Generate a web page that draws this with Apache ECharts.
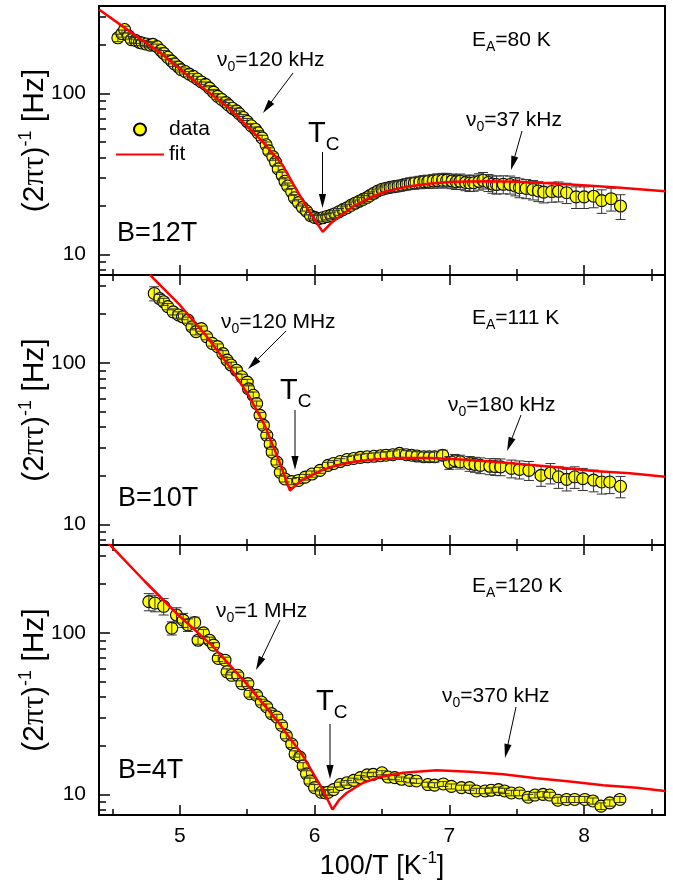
<!DOCTYPE html>
<html><head><meta charset="utf-8">
<script src="https://cdn.jsdelivr.net/npm/echarts@6/dist/echarts.min.js"></script>
<style>html,body{margin:0;padding:0;background:#fff}#c{width:673px;height:890px}</style>
</head><body><div id="c"></div>
<script>
// ---- tick values ----
const xTicksMajor = [5, 6, 7, 8];
const xTicksMinor = [4.5, 5.5, 6.5, 7.5, 8.5];
const yTicksMajor = [10, 100];
const yTicksMinor = [8, 9, 20, 30, 40, 50, 60, 70, 80, 90, 200, 300];

// ---- B = 12 T : [100/T, rate (Hz), error (Hz)] ----
const data12T = [
[4.54,222,12],[4.57,236,12],[4.59,250,12],[4.62,228,10],[4.64,216,10],[4.67,214,9],[4.70,208,9],[4.72,206,8],
[4.75,203,8],[4.78,200,8],[4.80,202,8],[4.83,196,7],[4.86,185,7],[4.88,178,7],[4.91,168,6],[4.94,159,6],
[4.96,153,6],[4.99,146,6],[5.01,141,5],[5.04,137,5],[5.07,132,5],[5.10,128,5],[5.13,123,5],[5.16,118,4],
[5.19,114,4],[5.22,108,4],[5.25,102,4],[5.28,96,4],[5.31,92,3],[5.34,88,3],[5.36,85,3],[5.39,81,3],
[5.42,78,3],[5.44,75,3],[5.47,71,3],[5.50,67,3],[5.53,63,2],[5.56,60,2],[5.58,57,2],[5.61,53,2],
[5.64,48,2],[5.66,44,2],[5.69,40.5,2],[5.71,37.5,2],[5.73,34,1.5],[5.76,31,1.5],[5.78,28.5,1.5],[5.80,26.6,1.2],
[5.83,24.5,1.2],[5.85,22.5,1],[5.88,21,1],[5.91,19.6,1],[5.94,18.6,1],[5.97,17.4,0.8],[6.00,17.0,0.8],[6.03,16.7,0.8],
[6.06,16.9,0.8],[6.09,17.2,0.8],[6.12,17.5,0.8],[6.15,17.9,0.9],[6.18,18.4,0.9],[6.21,19.0,1],[6.24,19.5,1],[6.27,20.2,1],
[6.30,20.8,1],[6.33,21.4,1.2],[6.36,22.0,1.2],[6.39,22.6,1.3],[6.41,23.2,1.3],[6.44,24.0,1.5],[6.47,24.8,1.5],[6.50,25.4,1.6],
[6.53,25.8,1.7],[6.56,26.1,1.8],[6.59,26.4,1.9],[6.62,26.6,2],[6.65,26.9,2],[6.68,27.3,2.2],[6.71,27.6,2.3],[6.74,27.8,2.4],
[6.78,28.1,2.5],[6.81,28.3,2.6],[6.84,28.4,2.7],[6.88,28.6,2.8],[6.91,28.8,2.9],[6.95,28.9,3],[6.98,28.9,3],[7.02,28.6,3],
[7.05,28.3,3],[7.08,28.5,3.1],[7.12,28.0,3.1],[7.15,27.8,3.2],[7.18,27.9,3.2],[7.22,28.4,3.3],[7.25,28.9,3.4],[7.29,28.0,3.4],
[7.32,27.4,3.4],[7.35,27.2,3.5],[7.40,27.3,3.5],[7.45,27.2,3.5],[7.49,26.6,3.5],[7.52,26.0,3.5],[7.57,25.7,3.5],[7.62,25.3,3.5],
[7.66,24.8,3.5],[7.70,24.4,3.5],[7.76,24.6,3.5],[7.81,24.7,3.5],[7.87,24.2,3.5],[7.94,22.8,3.5],[8.00,22.8,3.5],[8.07,23.0,3.5],
[8.13,21.6,3.6],[8.20,22.2,3.6],[8.27,20.0,3.5]
];
const fit12T = [
[4.40,333],[4.62,246],[4.87,175],[5.11,119],[5.36,81.5],[5.61,50.6],[5.76,36.2],[5.85,26.6],[5.95,19.1],[6.06,13.8],
[6.12,15.6],[6.19,17.3],[6.29,20.0],[6.41,22.5],[6.53,24.7],[6.68,26.3],[6.86,27.6],[7.03,28.3],[7.28,28.5],[7.52,28.3],
[7.77,27.6],[8.02,26.8],[8.27,26.0],[8.60,24.7]
];

// ---- B = 10 T ----
const data10T = [
[4.81,269,27],[4.85,250,15],[4.88,239,12],[4.91,223,10],[4.95,207,9],[4.99,198,9],[5.02,193,8],[5.06,184,8],
[5.09,167,7],[5.12,156,7],[5.16,163,6],[5.20,145,6],[5.24,132,5],[5.28,126,5],[5.32,114,5],[5.35,104,4],
[5.38,97,4],[5.42,90,4],[5.46,82,3],[5.50,76,3],[5.51,69,3],[5.545,63,3],[5.57,56,2],[5.595,47.3,2],
[5.62,41,2],[5.645,35.6,1.5],[5.67,31.5,1.5],[5.685,28,1.2],[5.72,24.3,1],[5.745,21,1],[5.78,19.1,0.8],[5.83,18.4,0.8],
[5.88,18.7,0.8],[5.93,19.6,0.8],[5.98,20.5,0.9],[6.04,21.6,0.9],[6.10,23.2,1],[6.14,23.8,1],[6.19,24.5,1],[6.24,25.2,1.1],
[6.29,25.6,1.2],[6.34,26.0,1.2],[6.39,26.2,1.3],[6.44,26.4,1.3],[6.49,26.6,1.4],[6.53,26.8,1.4],[6.58,27.0,1.5],[6.63,27.5,1.5],
[6.68,27.0,1.6],[6.72,26.8,1.6],[6.76,26.5,1.7],[6.81,26.2,1.8],[6.85,26.2,1.8],[6.89,26.2,1.9],[6.95,26.8,2],[7.00,24.1,2.2],
[7.04,24.8,2.3],[7.08,24.4,2.4],[7.15,23.8,2.5],[7.19,23.5,2.5],[7.23,23.2,2.6],[7.30,22.9,2.6],[7.34,22.8,2.7],[7.38,22.7,2.7],
[7.46,22.2,2.8],[7.52,21.9,2.8],[7.59,21.6,2.9],[7.68,20.1,2.9],[7.75,20.8,3],[7.81,19.7,3],[7.87,19.0,2.9],[7.93,19.7,3],
[7.99,19.2,3],[8.07,18.8,2.9],[8.13,18.3,2.9],[8.19,18.3,2.8],[8.27,17.2,2.6]
];
const fit10T = [
[4.778,351],[4.99,233],[5.19,149],[5.36,96.8],[5.51,63],[5.63,41],[5.73,25.5],[5.817,16.2],[5.90,18.7],[6.05,21.6],
[6.14,22.9],[6.29,24.4],[6.46,25.3],[6.66,25.8],[6.86,25.8],[7.08,25.2],[7.33,24.4],[7.57,23.5],[7.82,22.5],[8.07,21.4],
[8.34,20.7],[8.60,19.7]
];

// ---- B = 4 T ----
const data4T = [
[4.77,156,19],[4.815,153,18],[4.88,146,17],[4.94,107,10],[4.975,129,14],[5.025,120,12],[5.06,112,10],[5.11,116,9],
[5.135,90,5],[5.175,100,5],[5.22,90,4],[5.25,84,3],[5.285,69.4,3],[5.335,67.7,3],[5.35,57.4,2.5],[5.385,54.6,2.5],
[5.43,54.6,2.5],[5.46,48.5,2],[5.505,48.5,2],[5.52,42,2],[5.57,41,2],[5.605,37.3,1.5],[5.645,34.8,1.5],[5.68,31.6,1.5],
[5.72,30.1,1.2],[5.755,26.7,1.2],[5.79,23.1,1],[5.83,20.5,1],[5.855,17.8,0.8],[5.89,17.0,0.8],[5.915,15.0,0.7],[5.94,13.4,0.6],
[5.965,12.1,0.5],[6.00,11.0,0.5],[6.05,10.3,0.4],[6.08,10.2,0.4],[6.10,10.3,0.4],[6.14,10.7,0.4],[6.19,11.5,0.4],[6.24,11.8,0.4],
[6.29,12.2,0.4],[6.34,12.7,0.4],[6.39,13.2,0.4],[6.435,13.3,0.4],[6.50,13.6,0.4],[6.545,12.8,0.4],[6.595,12.7,0.4],[6.645,12.4,0.4],
[6.705,12.2,0.4],[6.755,12.1,0.4],[6.84,11.5,0.4],[6.89,11.4,0.4],[6.955,11.6,0.4],[7.015,11.2,0.4],[7.09,11.0,0.4],[7.15,11.0,0.4],
[7.20,10.5,0.4],[7.265,10.5,0.4],[7.31,10.6,0.4],[7.365,10.7,0.4],[7.41,10.5,0.4],[7.46,10.2,0.4],[7.52,10.2,0.4],[7.585,9.6,0.4],
[7.635,9.9,0.4],[7.695,10.0,0.4],[7.745,9.9,0.4],[7.805,9.2,0.4],[7.87,9.3,0.4],[7.93,9.3,0.4],[8.005,9.3,0.4],[8.065,9.1,0.4],
[8.125,8.45,0.4],[8.19,8.85,0.4],[8.265,9.3,0.4]
];
const fit4T = [
[4.469,360],[4.741,208],[4.988,129],[5.236,84],[5.483,49.7],[5.73,28],[5.904,17.8],[6.052,11.0],[6.133,8.06],[6.18,9.2],
[6.237,10.2],[6.36,11.8],[6.485,12.8],[6.657,13.6],[6.905,14.1],[7.152,13.8],[7.399,13.3],[7.647,12.6],[7.894,12.0],[8.141,11.4],
[8.389,11.0],[8.60,10.5]
];

const FONT = "'Liberation Sans', Arial, Helvetica, sans-serif";
const chart = echarts.init(document.getElementById('c'), null, {renderer: 'canvas'});

const panels = [
  {data: data12T, fit: fit12T, top: 6,   h: 269, topTicks: false, labels: false},
  {data: data10T, fit: fit10T, top: 275, h: 270, topTicks: true,  labels: false},
  {data: data4T,  fit: fit4T,  top: 545, h: 270, topTicks: true,  labels: true}
];

const grid = [], xAxis = [], yAxis = [], series = [];
const tickStyle = {color: '#000', width: 1.5};
const yName = '{a|(2}{g|πτ}{a|)}{s|-1}{a| [Hz]}';
const yRich = {
  a: {fontSize: 30, fontFamily: FONT, color: '#000'},
  g: {fontSize: 32, fontFamily: "'Liberation Serif', serif", color: '#000'},
  s: {fontSize: 18, fontFamily: FONT, color: '#000', padding: [0, 0, 18, 0]}
};
const xRich = {
  a: {fontSize: 27, fontFamily: FONT, color: '#000'},
  s: {fontSize: 17, fontFamily: FONT, color: '#000', padding: [0, 0, 16, 0]}
};

panels.forEach((p, i) => {
  grid.push({left: 99, width: 566, top: p.top, height: p.h, show: true,
    borderColor: '#000', borderWidth: 2, backgroundColor: 'transparent', containLabel: false});
  const xMain = xAxis.length;
  const xBase = {type: 'value', gridIndex: i, min: 4.4, max: 8.6, splitLine: {show: false},
    axisLine: {show: false, onZero: false}};
  xAxis.push(Object.assign({}, xBase, {position: 'bottom',
    axisTick: {inside: true, length: 10, lineStyle: tickStyle, customValues: xTicksMajor},
    axisLabel: {show: p.labels, customValues: xTicksMajor, fontSize: 21, color: '#000', fontFamily: FONT, margin: 11},
    name: p.labels ? '{a|100/T [K}{s|-1}{a|]}' : '', nameLocation: 'middle', nameGap: 35,
    nameTextStyle: {rich: xRich}}));
  xAxis.push(Object.assign({}, xBase, {position: 'bottom',
    axisTick: {inside: true, length: 6, lineStyle: tickStyle, customValues: xTicksMinor},
    axisLabel: {show: false}}));
  if (p.topTicks) {
    xAxis.push(Object.assign({}, xBase, {position: 'top',
      axisTick: {inside: true, length: 10, lineStyle: tickStyle, customValues: xTicksMajor},
      axisLabel: {show: false}}));
    xAxis.push(Object.assign({}, xBase, {position: 'top',
      axisTick: {inside: true, length: 6, lineStyle: tickStyle, customValues: xTicksMinor},
      axisLabel: {show: false}}));
  }
  const yMain = yAxis.length;
  const yBase = {type: 'log', logBase: 10, gridIndex: i, min: 7.45, max: 350, position: 'left',
    splitLine: {show: false}, axisLine: {show: false, onZero: false}};
  yAxis.push(Object.assign({}, yBase, {
    axisTick: {inside: true, length: 11, lineStyle: tickStyle, customValues: yTicksMajor},
    axisLabel: {customValues: yTicksMajor, fontSize: 21, color: '#000', fontFamily: FONT, margin: 13},
    name: yName, nameLocation: 'middle', nameRotate: 90, nameGap: 46, nameMoveOverlap: false,
    nameTextStyle: {rich: yRich}}));
  yAxis.push(Object.assign({}, yBase, {
    axisTick: {inside: true, length: 7, lineStyle: tickStyle, customValues: yTicksMinor},
    axisLabel: {show: false}}));

  series.push({
    name: 'data', type: 'scatter', xAxisIndex: xMain, yAxisIndex: yMain,
    data: p.data, encode: {x: 0, y: 1}, symbol: 'circle', symbolSize: 12,
    itemStyle: {color: '#ffff00', borderColor: '#000', borderWidth: 1.1, opacity: 1},
    z: 2, silent: true, animation: false
  });
  series.push({
    name: 'err' + i, type: 'custom', xAxisIndex: xMain, yAxisIndex: yMain,
    data: p.data, encode: {x: 0, y: 1}, z: 3, silent: true, animation: false,
    renderItem: (params, api) => {
      const x = api.value(0), y = api.value(1), e = api.value(2);
      const t = api.coord([x, y + e]), b = api.coord([x, y - e]);
      const cw = 5;
      const st = {stroke: '#333', lineWidth: 1};
      return {type: 'group', children: [
        {type: 'line', shape: {x1: t[0], y1: t[1], x2: b[0], y2: b[1]}, style: st},
        {type: 'line', shape: {x1: t[0] - cw, y1: t[1], x2: t[0] + cw, y2: t[1]}, style: st},
        {type: 'line', shape: {x1: b[0] - cw, y1: b[1], x2: b[0] + cw, y2: b[1]}, style: st}
      ]};
    }
  });
  series.push({
    name: 'fit', type: 'line', xAxisIndex: xMain, yAxisIndex: yMain,
    data: p.fit, symbol: 'none', showSymbol: false, clip: true,
    lineStyle: {color: '#ff0000', width: 2.5}, itemStyle: {color: '#ff0000', opacity: 0},
    z: 4, silent: true, animation: false
  });
});

// ---- annotations (pixel layout) ----
const annFont = 21;
const subRich = {
  a: {fontSize: annFont, fontFamily: FONT, color: '#000'},
  s: {fontSize: 14, fontFamily: FONT, color: '#000', padding: [15, 0, 0, 0]},
  T: {fontSize: 29, fontFamily: FONT, color: '#000'},
  C: {fontSize: 19, fontFamily: FONT, color: '#000', padding: [22, 0, 0, 0]},
  B: {fontSize: 27, fontFamily: FONT, color: '#000'}
};
const texts = [
  ['{a|ν}{s|0}{a|=120 kHz}', 217, 60], ['{a|E}{s|A}{a|=80 K}', 472, 40], ['{a|ν}{s|0}{a|=37 kHz}', 466, 120],
  ['{T|T}{C|C}', 308, 134], ['{B|B=12T}', 117, 234],
  ['{a|ν}{s|0}{a|=120 MHz}', 221, 322], ['{a|E}{s|A}{a|=111 K}', 472, 318], ['{a|ν}{s|0}{a|=180 kHz}', 448, 405],
  ['{T|T}{C|C}', 280, 391], ['{B|B=10T}', 118, 499],
  ['{a|ν}{s|0}{a|=1 MHz}', 216, 611], ['{a|E}{s|A}{a|=120 K}', 472, 586], ['{a|ν}{s|0}{a|=370 kHz}', 442, 696],
  ['{T|T}{C|C}', 316, 702], ['{B|B=4T}', 118, 771]
];
const arrows = [
  [293, 73, 263, 113], [322.5, 152, 322.5, 208], [522, 131, 511, 170],
  [286, 331, 248, 369], [295, 410, 295, 470], [521, 415, 507, 451],
  [280, 620, 256, 670], [330, 724, 330, 779], [516, 707, 505, 758]
];
const graphic = [];
texts.forEach(t => graphic.push({type: 'text', x: t[1], y: t[2], z: 100, silent: true,
  style: {text: t[0], rich: subRich, fill: '#000', align: 'left', verticalAlign: 'middle', font: annFont + 'px ' + FONT}}));
arrows.forEach(a => {
  const [x1, y1, x2, y2] = a;
  const dx = x2 - x1, dy = y2 - y1, L = Math.hypot(dx, dy), ux = dx / L, uy = dy / L;
  const hl = 14, hw = 3.6, bx = x2 - ux * hl, by = y2 - uy * hl;
  graphic.push({type: 'line', z: 100, silent: true, shape: {x1, y1, x2: bx + ux * 2, y2: by + uy * 2},
    style: {stroke: '#000', lineWidth: 1}});
  graphic.push({type: 'polygon', z: 100, silent: true,
    shape: {points: [[x2, y2], [bx - uy * hw, by + ux * hw], [bx + uy * hw, by - ux * hw]]},
    style: {fill: '#000'}});
});

chart.setOption({
  animation: false,
  backgroundColor: '#fff',
  textStyle: {fontFamily: FONT},
  grid, xAxis, yAxis, series, graphic,
  legend: {data: ['data', {name: 'fit', itemStyle: {opacity: 0}}], orient: 'vertical', left: 115, top: 119,
    itemWidth: 48, itemHeight: 12, itemGap: 4, padding: 0, selectedMode: false,
    textStyle: {fontSize: 21, color: '#000', fontFamily: FONT}}
});
</script></body></html>
